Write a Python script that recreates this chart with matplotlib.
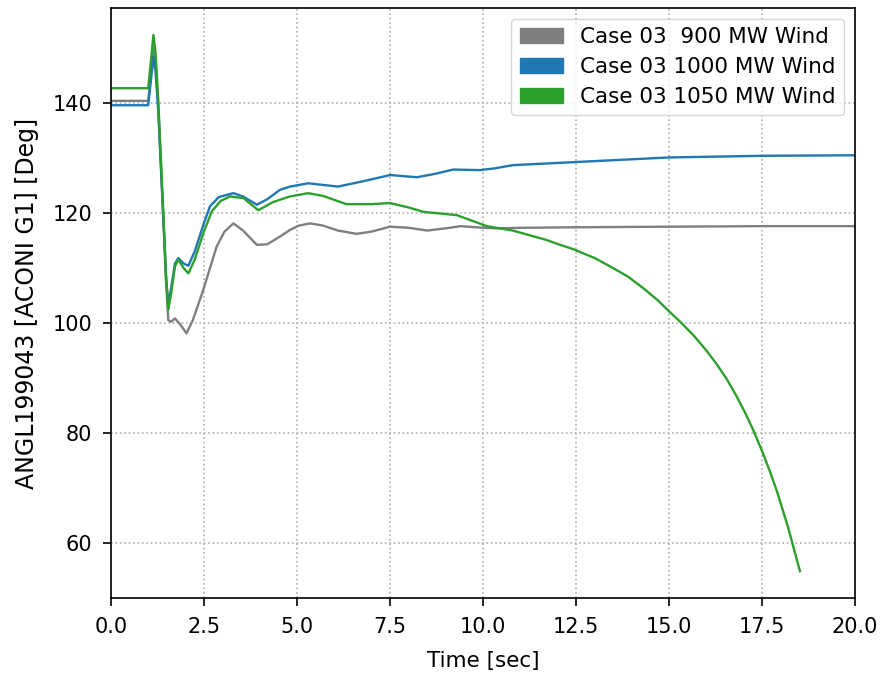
import matplotlib
matplotlib.use("Agg")
import matplotlib.pyplot as plt
from matplotlib.patches import Patch

# Rotor angle of ACONI G1 after the disturbance, three wind dispatch levels
t_900 = [0.0, 1.0, 1.07, 1.14, 1.2, 1.27, 1.35, 1.41, 1.48, 1.54, 1.62, 1.72, 1.85, 2.03, 2.2,
         2.48, 2.84, 3.05, 3.29, 3.55, 3.92, 4.2, 4.54, 4.81, 5.05, 5.35, 5.7, 6.1, 6.6, 7.0,
         7.5, 8.0, 8.5, 9.0, 9.4, 10.0, 10.4, 11.0, 12.6, 15.0, 17.5, 20.0]
v_900 = [140.4, 140.4, 145.0, 150.0, 147.0, 139.5, 127.5, 118.5, 107.5, 100.5, 100.2, 100.8, 99.8, 98.1, 100.5,
         106.0, 113.9, 116.6, 118.1, 116.8, 114.2, 114.3, 115.7, 116.9, 117.7, 118.1, 117.7, 116.8, 116.2, 116.6,
         117.5, 117.3, 116.8, 117.2, 117.6, 117.3, 117.2, 117.3, 117.4, 117.5, 117.6, 117.6]

t_1000 = [0.0, 1.0, 1.07, 1.14, 1.2, 1.27, 1.35, 1.41, 1.48, 1.54, 1.62, 1.72, 1.81, 1.95, 2.08,
          2.25, 2.48, 2.66, 2.9, 3.29, 3.55, 3.92, 4.2, 4.54, 4.81, 5.3, 5.7, 6.1, 6.8, 7.5,
          8.22, 8.7, 9.2, 9.92, 10.3, 10.8, 11.7, 12.6, 13.5, 15.0, 17.5, 20.0]
v_1000 = [139.6, 139.6, 144.0, 148.4, 145.5, 138.5, 127.0, 118.5, 108.5, 103.3, 106.5, 110.8, 111.8, 110.8, 110.4,
          113.0, 117.8, 121.2, 122.9, 123.6, 123.0, 121.5, 122.5, 124.2, 124.8, 125.4, 125.1, 124.8, 125.8, 126.9,
          126.5, 127.1, 127.9, 127.8, 128.1, 128.7, 129.0, 129.3, 129.6, 130.1, 130.4, 130.5]

t_1050 = [0.0, 1.0, 1.07, 1.14, 1.2, 1.27, 1.35, 1.41, 1.48, 1.54, 1.62, 1.72, 1.81, 1.95, 2.08,
          2.25, 2.48, 2.71, 2.95, 3.2, 3.56, 3.96, 4.36, 4.81, 5.3, 5.7, 6.33, 7.0, 7.5, 8.0,
          8.4, 9.3, 10.1, 10.8, 11.7, 12.07, 12.43, 13.0, 13.41, 13.9, 14.31, 14.7, 15.0, 15.3,
          15.65, 16.0, 16.28, 16.55, 16.82, 17.05, 17.27, 17.5, 17.7, 17.9, 18.2, 18.52]
v_1050 = [142.7, 142.7, 147.5, 152.4, 149.0, 140.5, 128.5, 119.5, 108.0, 102.4, 105.5, 110.3, 111.5, 110.0, 109.0,
          111.5, 116.3, 120.3, 122.2, 123.0, 122.7, 120.5, 122.0, 123.0, 123.6, 123.1, 121.6, 121.6, 121.8, 121.0,
          120.2, 119.6, 117.6, 116.8, 115.1, 114.2, 113.4, 111.8, 110.3, 108.4, 106.3, 104.1, 102.1, 100.2,
          97.8, 95.0, 92.5, 89.8, 86.6, 83.6, 80.4, 76.7, 73.2, 69.4, 62.8, 54.8]

labels = ["Case 03  900 MW Wind", "Case 03 1000 MW Wind", "Case 03 1050 MW Wind"]
colors = ["#7f7f7f", "#1f77b4", "#2ca02c"]

plt.rcParams["font.family"] = ["DejaVu Sans"]
fig = plt.figure(figsize=(8.81, 6.75), dpi=100)
ax = fig.add_axes([0.126, 0.114, 0.8445, 0.874])

for t, v, c in zip([t_900, t_1000, t_1050], [v_900, v_1000, v_1050], colors):
    ax.plot(t, v, color=c, linewidth=1.7)

ax.set_xlim(0, 20)
ax.set_xticks([0, 2.5, 5, 7.5, 10, 12.5, 15, 17.5, 20])
ax.set_xticklabels(["0.0", "2.5", "5.0", "7.5", "10.0", "12.5", "15.0", "17.5", "20.0"])
ax.grid(True, linestyle=":", color="#b0b0b0", linewidth=1.2)
ax.tick_params(labelsize=15, length=6, width=1.2, pad=7.5)
for s in ax.spines.values():
    s.set_linewidth(1.2)
ax.set_xlabel("Time [sec]", fontsize=15.5, labelpad=10)
ax.set_ylabel("ANGL199043 [ACONI G1] [Deg]", fontsize=17, labelpad=10)

handles = [Patch(facecolor=c, edgecolor=c) for c in colors]
ax.legend(handles, labels, loc="upper right", fontsize=15.5,
          borderaxespad=0.5, labelspacing=0.45)

fig.savefig("out.png", dpi=100)
